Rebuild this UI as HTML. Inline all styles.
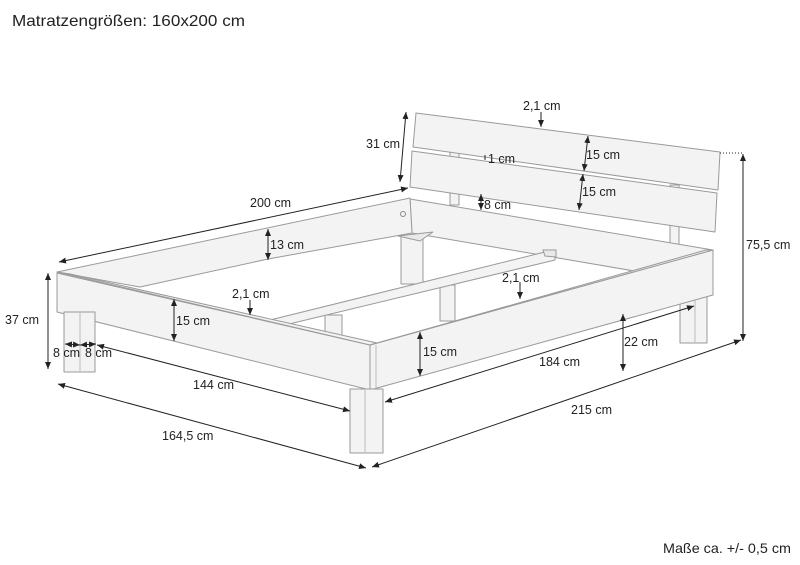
<!DOCTYPE html>
<html><head><meta charset="utf-8"><style>
html,body{margin:0;padding:0;background:#fff;}
svg{display:block;}
text{font-family:"Liberation Sans",sans-serif;fill:#222;}
.f{fill:#f3f3f3;stroke:#9a9a9a;stroke-width:1;stroke-linejoin:round;}
.g{fill:#e9e9e9;stroke:#9a9a9a;stroke-width:1;}
.d{stroke:#222;stroke-width:1;fill:none;}
.d line{marker-start:url(#a);marker-end:url(#a);}
.s line{marker-end:url(#a);}
.l{font-size:12.5px;}
</style></head><body>
<svg width="800" height="565" viewBox="0 0 800 565" xmlns="http://www.w3.org/2000/svg">
<defs>
<marker id="a" markerWidth="8" markerHeight="8" refX="7" refY="4" orient="auto-start-reverse" markerUnits="userSpaceOnUse">
<path d="M0,1 L7,4 L0,7 z" fill="#222"/></marker>
</defs>
<text x="12" y="26" font-size="16" textLength="233" lengthAdjust="spacingAndGlyphs">Matratzengrößen: 160x200 cm</text>
<text x="663" y="553" font-size="14" textLength="128" lengthAdjust="spacingAndGlyphs">Maße ca. +/- 0,5 cm</text>

<rect class="f" x="680" y="288" width="27" height="55"/>
<line x1="695" y1="288" x2="695" y2="343" stroke="#bbb"/>
<rect class="f" x="450" y="150" width="9" height="55"/>
<rect class="f" x="670" y="185" width="9" height="60"/>
<polygon class="f" points="416,113 720,152 718,190 413,147"/>
<polygon class="f" points="412,151 717,193 715,232 410,187"/>
<rect class="f" x="401" y="232" width="22" height="52"/>
<polygon class="f" points="410,199 713,250 706,252 640,272 412,233"/>
<polygon class="g" points="398,236 433,232 420,241"/>
<polygon class="f" points="57,272 410,198 412,233 268,259 140,287"/>
<circle cx="403" cy="214" r="2.5" fill="none" stroke="#888"/>
<rect class="f" x="440" y="285" width="15" height="36"/>
<rect class="f" x="325" y="315" width="17" height="21"/>
<polygon class="f" points="270,320 545,252 555,254 555,260 285,325"/>
<polygon class="g" points="543,250 556,250 556,257 545,256"/>
<polygon class="f" points="57,273 370,345 370,390 57,312"/>
<polygon class="f" points="57,272 70,274 377,343 370,345"/>
<polygon class="f" points="370,345 713,250 713,295 370,390"/>
<polygon class="f" points="370,345 377,343 706,250 713,250"/>
<line x1="376" y1="345" x2="376" y2="390" stroke="#bbb"/>
<rect class="f" x="64" y="312" width="31" height="60"/>
<line x1="80" y1="312" x2="80" y2="372" stroke="#bbb"/>
<rect class="f" x="350" y="389" width="33" height="64"/>
<line x1="365" y1="389" x2="365" y2="453" stroke="#bbb"/>

<line x1="720" y1="153" x2="742" y2="153" stroke="#222" stroke-dasharray="1,2"/>
<line x1="485" y1="155" x2="485" y2="160" stroke="#222"/>
<g class="d">
<line x1="59" y1="262" x2="408" y2="188"/>
<line x1="406" y1="112" x2="400" y2="182"/>
<line x1="48" y1="273" x2="48" y2="369"/>
<line x1="65" y1="344" x2="80" y2="345"/>
<line x1="80" y1="345" x2="96" y2="344"/>
<line x1="97" y1="345" x2="350" y2="411"/>
<line x1="58" y1="384" x2="366" y2="468"/>
<line x1="372" y1="467" x2="741" y2="340"/>
<line x1="743" y1="154" x2="743" y2="341"/>
<line x1="385" y1="402" x2="694" y2="306"/>
<line x1="623" y1="314" x2="623" y2="371"/>
<line x1="420" y1="332" x2="420" y2="376"/>
<line x1="174" y1="299" x2="174" y2="341"/>
<line x1="268" y1="229" x2="268" y2="260"/>
<line x1="588" y1="136" x2="584" y2="171"/>
<line x1="583" y1="174" x2="579" y2="210"/>
<line x1="481" y1="194" x2="481" y2="210"/>
</g>
<g class="s" stroke="#222" stroke-width="1">
<line x1="250" y1="300" x2="250" y2="315"/>
<line x1="520" y1="282" x2="520" y2="299"/>
<line x1="541" y1="112" x2="541" y2="127"/>
</g>

<g class="l">
<text x="250" y="207">200 cm</text>
<text x="366" y="148">31 cm</text>
<text x="5" y="324">37 cm</text>
<text x="53" y="357">8 cm</text>
<text x="85" y="357">8 cm</text>
<text x="193" y="389">144 cm</text>
<text x="162" y="440">164,5 cm</text>
<text x="571" y="414">215 cm</text>
<text x="746" y="249">75,5 cm</text>
<text x="539" y="366">184 cm</text>
<text x="624" y="346">22 cm</text>
<text x="423" y="356">15 cm</text>
<text x="176" y="325">15 cm</text>
<text x="270" y="249">13 cm</text>
<text x="232" y="298">2,1 cm</text>
<text x="502" y="282">2,1 cm</text>
<text x="523" y="110">2,1 cm</text>
<text x="586" y="159">15 cm</text>
<text x="582" y="196">15 cm</text>
<text x="488" y="163">1 cm</text>
<text x="484" y="209">8 cm</text>
</g>
</svg>
</body></html>
